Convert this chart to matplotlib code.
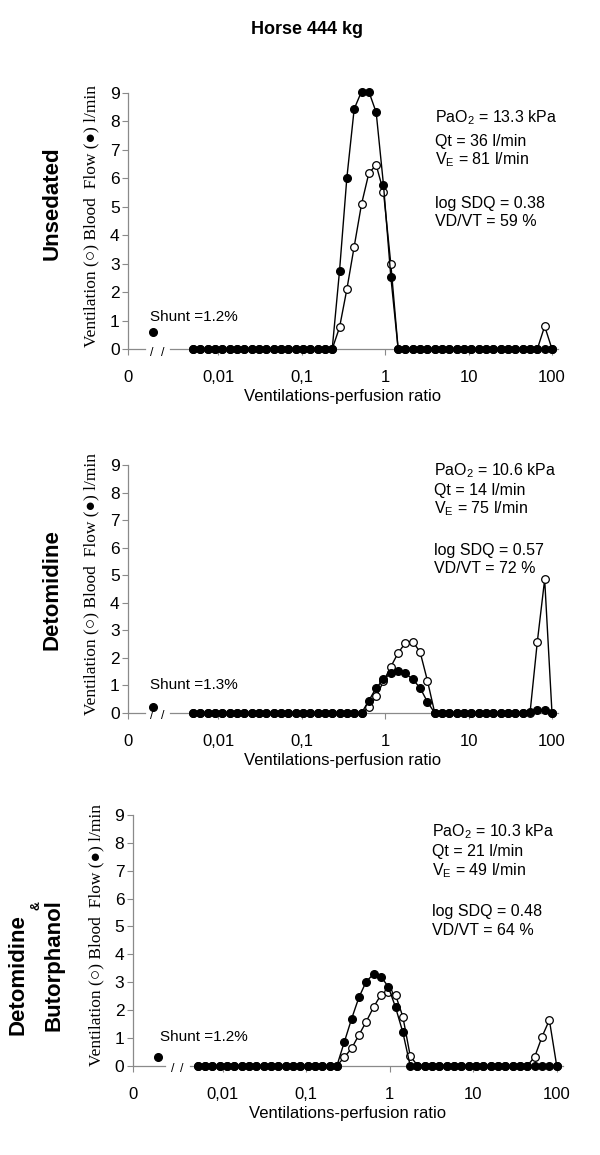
import numpy as np
import matplotlib
matplotlib.use('Agg')
import matplotlib.pyplot as plt

plt.rcParams['font.family'] = ['Liberation Sans', 'DejaVu Sans']
plt.rcParams['mathtext.fontset'] = 'custom'
plt.rcParams['mathtext.rm'] = 'Liberation Sans'
plt.rcParams['mathtext.default'] = 'regular'

# 50 MIGET compartments, VA/Q from 0.005 to 100
vaq = np.logspace(np.log10(0.005), 2, 50)

# blood flow (filled) and ventilation (open), l/min
flow_unsedated = [0]*20 + [2.75, 6.02, 8.44, 9.05, 9.05, 8.32, 5.77, 2.54] + [0]*22
vent_unsedated = [0]*20 + [0.76, 2.1, 3.6, 5.09, 6.18, 6.47, 5.53, 2.99] + [0]*20 + [0.8, 0]

flow_detomidine = [0]*24 + [0.45, 0.91, 1.22, 1.44, 1.54, 1.44, 1.22, 0.91, 0.4] + [0]*13 + [0.05, 0.1, 0.12, 0]
vent_detomidine = [0]*24 + [0.2, 0.6, 1.15, 1.68, 2.18, 2.55, 2.59, 2.21, 1.17] + [0]*14 + [2.59, 4.85, 0]

flow_butorphanol = [0]*20 + [0.84, 1.68, 2.45, 3.02, 3.29, 3.2, 2.84, 2.1, 1.2] + [0]*21
vent_butorphanol = [0]*20 + [0.3, 0.62, 1.1, 1.58, 2.1, 2.54, 2.66, 2.54, 1.76, 0.36] + [0]*16 + [0.32, 1.04, 1.64, 0]

shunt_values = [0.6, 0.2, 0.3]
shunt_labels = ['Shunt =1.2%', 'Shunt =1.3%', 'Shunt =1.2%']

pao2 = ['13.3', '10.6', '10.3']
qt = ['36', '14', '21']
ve = ['81', '75', '49']
sdq = ['0.38', '0.57', '0.48']
vdvt = ['59', '72', '64']

xtick_labels = ['0', '0,01', '0,1', '1', '10', '100']

flows = [flow_unsedated, flow_detomidine, flow_butorphanol]
vents = [vent_unsedated, vent_detomidine, vent_butorphanol]

W, H = 600, 1155
fig = plt.figure(figsize=(6, 11.55), dpi=100)

# axes in pixels: left, y of zero line, y of top (9)
rects_px = [(128, 349, 93), (128, 713, 465), (132.7, 1065.7, 815)]
# stats block positions (axes fraction)
stat_y = [[0.902, 0.81, 0.738, 0.57, 0.497],
          [0.977, 0.899, 0.823, 0.657, 0.583],
          [0.934, 0.854, 0.777, 0.617, 0.541]]
stat_x = [0.714, 0.712, 0.695]
shunt_txt_pos = [(0.051, 0.125), (0.051, 0.113), (0.063, 0.114)]
# axis break: end of first segment, slash positions, start of second segment
breaks = [(0.04, 0.056, 0.081, 0.098), (0.04, 0.056, 0.081, 0.098), (0.075, 0.094, 0.115, 0.133)]

xmin, xmax = 10**-3.08, 10**2.072
shunt_x = 10**-2.78
grey = '#8a8a8a'

for k in range(3):
    left, y0, y9 = rects_px[k]
    ax = fig.add_axes([left/W, (H - y0)/H, 430/W, (y0 - y9)/H])
    ax.set_xscale('log')
    ax.set_xlim(xmin, xmax)
    ax.set_ylim(0, 9)

    ax.plot(vaq, vents[k], '-o', color='black', lw=1, ms=5.5, mfc='white', mec='black',
            mew=0.9, clip_on=False, zorder=3)
    ax.plot(vaq, flows[k], '-o', color='black', lw=1, ms=5.5, clip_on=False, zorder=4)
    ax.plot([shunt_x], [shunt_values[k]], 'o', color='black', ms=5.5, clip_on=False)

    for s in ['top', 'right', 'bottom']:
        ax.spines[s].set_visible(False)
    ax.spines['left'].set_color(grey)
    ax.spines['left'].set_linewidth(0.9)

    # broken x axis
    e1, s1, s2, b2 = breaks[k]
    ax.plot([0, e1], [0, 0], color=grey, lw=0.9, transform=ax.transAxes, clip_on=False, zorder=1)
    ax.plot([b2, 1], [0, 0], color=grey, lw=0.9, transform=ax.transAxes, clip_on=False, zorder=1)
    for sx in (s1, s2):
        ax.text(sx, -0.014, '/', transform=ax.transAxes, ha='center', va='center', fontsize=9)

    ax.set_yticks(range(10))
    ax.set_xticks([xmin, 0.01, 0.1, 1, 10, 100])
    ax.set_xticklabels(xtick_labels)
    ax.minorticks_off()
    ax.tick_params(axis='y', direction='out', length=4, width=0.8, color=grey, labelsize=12.5, pad=2)
    ax.tick_params(axis='x', direction='out', length=4, width=0.8, color=grey, labelsize=12, pad=11)
    ax.set_xlabel('Ventilations-perfusion ratio', fontsize=12, labelpad=3)

    ax.text(-0.084, 0.52, 'Ventilation (\u25cb) Blood  Flow (\u25cf) l/min', transform=ax.transAxes,
            rotation=90, ha='center', va='center', fontsize=12.5,
            family=['Liberation Serif', 'DejaVu Sans'])

    sx_t, sy_t = shunt_txt_pos[k]
    ax.text(sx_t, sy_t, shunt_labels[k], transform=ax.transAxes, ha='left', va='center', fontsize=11)

    lines = ['PaO$_2$ = %s kPa' % pao2[k], 'Qt = %s l/min' % qt[k], 'V$_E$ = %s l/min' % ve[k],
             'log SDQ = %s' % sdq[k], 'VD/VT = %s %%' % vdvt[k]]
    for txt, yy in zip(lines, stat_y[k]):
        ax.text(stat_x[k], yy, txt, transform=ax.transAxes, ha='left', va='center', fontsize=11.5)

fig.text(307/W, 1 - 30/H, 'Horse 444 kg', ha='center', va='center', fontsize=13, fontweight='bold')
fig.text(52/W, 1 - 203/H, 'Unsedated', rotation=90, ha='center', va='center', fontsize=16, fontweight='bold')
fig.text(52/W, 1 - 590/H, 'Detomidine', rotation=90, ha='center', va='center', fontsize=16, fontweight='bold')
fig.text(18/W, 1 - 975/H, 'Detomidine', rotation=90, ha='center', va='center', fontsize=16, fontweight='bold')
fig.text(36/W, 1 - 906/H, '&', rotation=90, ha='center', va='center', fontsize=9, fontweight='bold')
fig.text(54/W, 1 - 965/H, 'Butorphanol', rotation=90, ha='center', va='center', fontsize=16, fontweight='bold')

fig.savefig('out.png', dpi=100)
